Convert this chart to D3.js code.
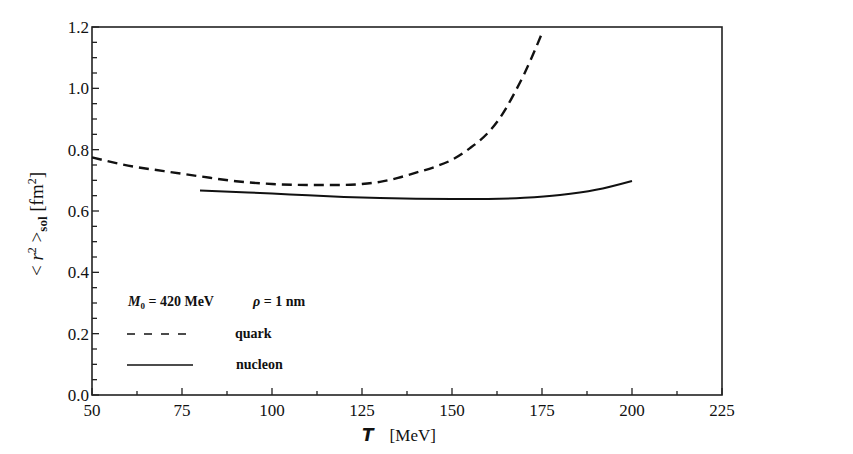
<!DOCTYPE html>
<html>
<head>
<meta charset="utf-8">
<script src="https://cdn.jsdelivr.net/npm/d3@7"></script>
<style>
body{margin:0;background:#fff;}
text{font-family:"Liberation Serif","DejaVu Serif",serif;fill:#111;}
.tick{font-size:17px;}
.leg{font-size:14px;font-weight:bold;}
</style>
</head>
<body>
<div id="chart"></div>
<script>
// data
var quarkT=[50,60,70,80,90,100,110,120,125,130,135,140,145,150,155,160,162.5,165,167.5,170,172.5,175];
var quarkR=[0.775,0.748,0.73,0.713,0.697,0.688,0.685,0.685,0.688,0.695,0.708,0.725,0.743,0.767,0.805,0.855,0.89,0.935,0.988,1.045,1.11,1.18];
var nucT=[80,90,100,110,120,130,140,150,160,170,180,190,200];
var nucR=[0.667,0.662,0.657,0.651,0.646,0.642,0.640,0.639,0.6395,0.643,0.652,0.669,0.698];
var xTicks=[50,75,100,125,150,175,200,225];
var yTicks=[0.0,0.2,0.4,0.6,0.8,1.0,1.2];

var svg=d3.select('#chart').append('svg').attr('width',853).attr('height',454);
var x=d3.scaleLinear().domain([50,225]).range([92,722]);
var y=d3.scaleLinear().domain([0,1.2]).range([395,27]);

// frame
svg.append('rect').attr('x',92).attr('y',27).attr('width',630).attr('height',368)
  .attr('fill','none').attr('stroke','#222').attr('stroke-width',1.6);

// bottom axis, ticks inward
var xMinor=d3.range(62.5,225,25);
svg.append('g').selectAll('line').data(xTicks).enter().append('line')
  .attr('x1',d=>x(d)).attr('x2',d=>x(d)).attr('y1',395).attr('y2',388)
  .attr('stroke','#222').attr('stroke-width',1.3);
svg.append('g').selectAll('line').data(xMinor).enter().append('line')
  .attr('x1',d=>x(d)).attr('x2',d=>x(d)).attr('y1',395).attr('y2',391)
  .attr('stroke','#222').attr('stroke-width',1.3);
svg.append('g').selectAll('text').data(xTicks).enter().append('text').attr('class','tick')
  .attr('x',d=>x(d)).attr('y',416).attr('text-anchor','middle').text(d=>d);

// left axis, ticks inward
var yMinor=d3.range(0.05,1.2,0.1).concat(d3.range(0.1,1.2,0.2));
svg.append('g').selectAll('line').data(yTicks).enter().append('line')
  .attr('x1',92).attr('x2',99).attr('y1',d=>y(d)).attr('y2',d=>y(d))
  .attr('stroke','#222').attr('stroke-width',1.3);
svg.append('g').selectAll('line').data(yMinor).enter().append('line')
  .attr('x1',92).attr('x2',97).attr('y1',d=>y(d)).attr('y2',d=>y(d))
  .attr('stroke','#222').attr('stroke-width',1.3);
svg.append('g').selectAll('text').data(yTicks).enter().append('text').attr('class','tick')
  .attr('x',89).attr('y',d=>y(d)+6).attr('text-anchor','end').text(d=>d.toFixed(1));

// axis titles
var xl=svg.append('text').attr('x',362).attr('y',441).style('font-size','17px');
xl.append('tspan').text('T').style('font-family','"DejaVu Sans",sans-serif').style('font-weight','bold').style('font-style','italic');
xl.append('tspan').attr('dx',16).text('[MeV]');

var yl=svg.append('text').attr('transform','translate(43,224) rotate(-90)').attr('text-anchor','middle').style('font-size','19px');
yl.append('tspan').text('< ');
yl.append('tspan').text('r').style('font-style','italic');
yl.append('tspan').text('2').attr('dy',-7).style('font-size','12px');
yl.append('tspan').text(' >').attr('dy',7);
yl.append('tspan').text('sol').attr('dy',4).style('font-size','13px').style('font-weight','bold');
yl.append('tspan').text(' [fm').attr('dy',-4);
yl.append('tspan').text('2').attr('dy',-7).style('font-size','12px');
yl.append('tspan').text(']').attr('dy',7);

// curves
var line=d3.line().x(d=>x(d[0])).y(d=>y(d[1])).curve(d3.curveMonotoneX);
svg.append('path').datum(d3.zip(quarkT,quarkR)).attr('d',line)
  .attr('fill','none').attr('stroke','#111').attr('stroke-width',2.4).attr('stroke-dasharray','10,6');
svg.append('path').datum(d3.zip(nucT,nucR)).attr('d',line)
  .attr('fill','none').attr('stroke','#111').attr('stroke-width',2);

// legend
var t1=svg.append('text').attr('class','leg').attr('x',128).attr('y',306);
t1.append('tspan').text('M').style('font-style','italic');
t1.append('tspan').text('0').attr('dy',3).style('font-size','9px');
t1.append('tspan').text(' = 420 MeV').attr('dy',-3);
var t2=svg.append('text').attr('class','leg').attr('x',253).attr('y',306);
t2.append('tspan').text('ρ').style('font-style','italic');
t2.append('tspan').text(' = 1 nm');
svg.append('line').attr('x1',127).attr('x2',193).attr('y1',334).attr('y2',334)
  .attr('stroke','#111').attr('stroke-width',1.6).attr('stroke-dasharray','8,9');
svg.append('text').attr('class','leg').attr('x',235).attr('y',338).text('quark');
svg.append('line').attr('x1',127).attr('x2',193).attr('y1',365).attr('y2',365)
  .attr('stroke','#111').attr('stroke-width',1.6);
svg.append('text').attr('class','leg').attr('x',236).attr('y',369).text('nucleon');
</script>
</body>
</html>
